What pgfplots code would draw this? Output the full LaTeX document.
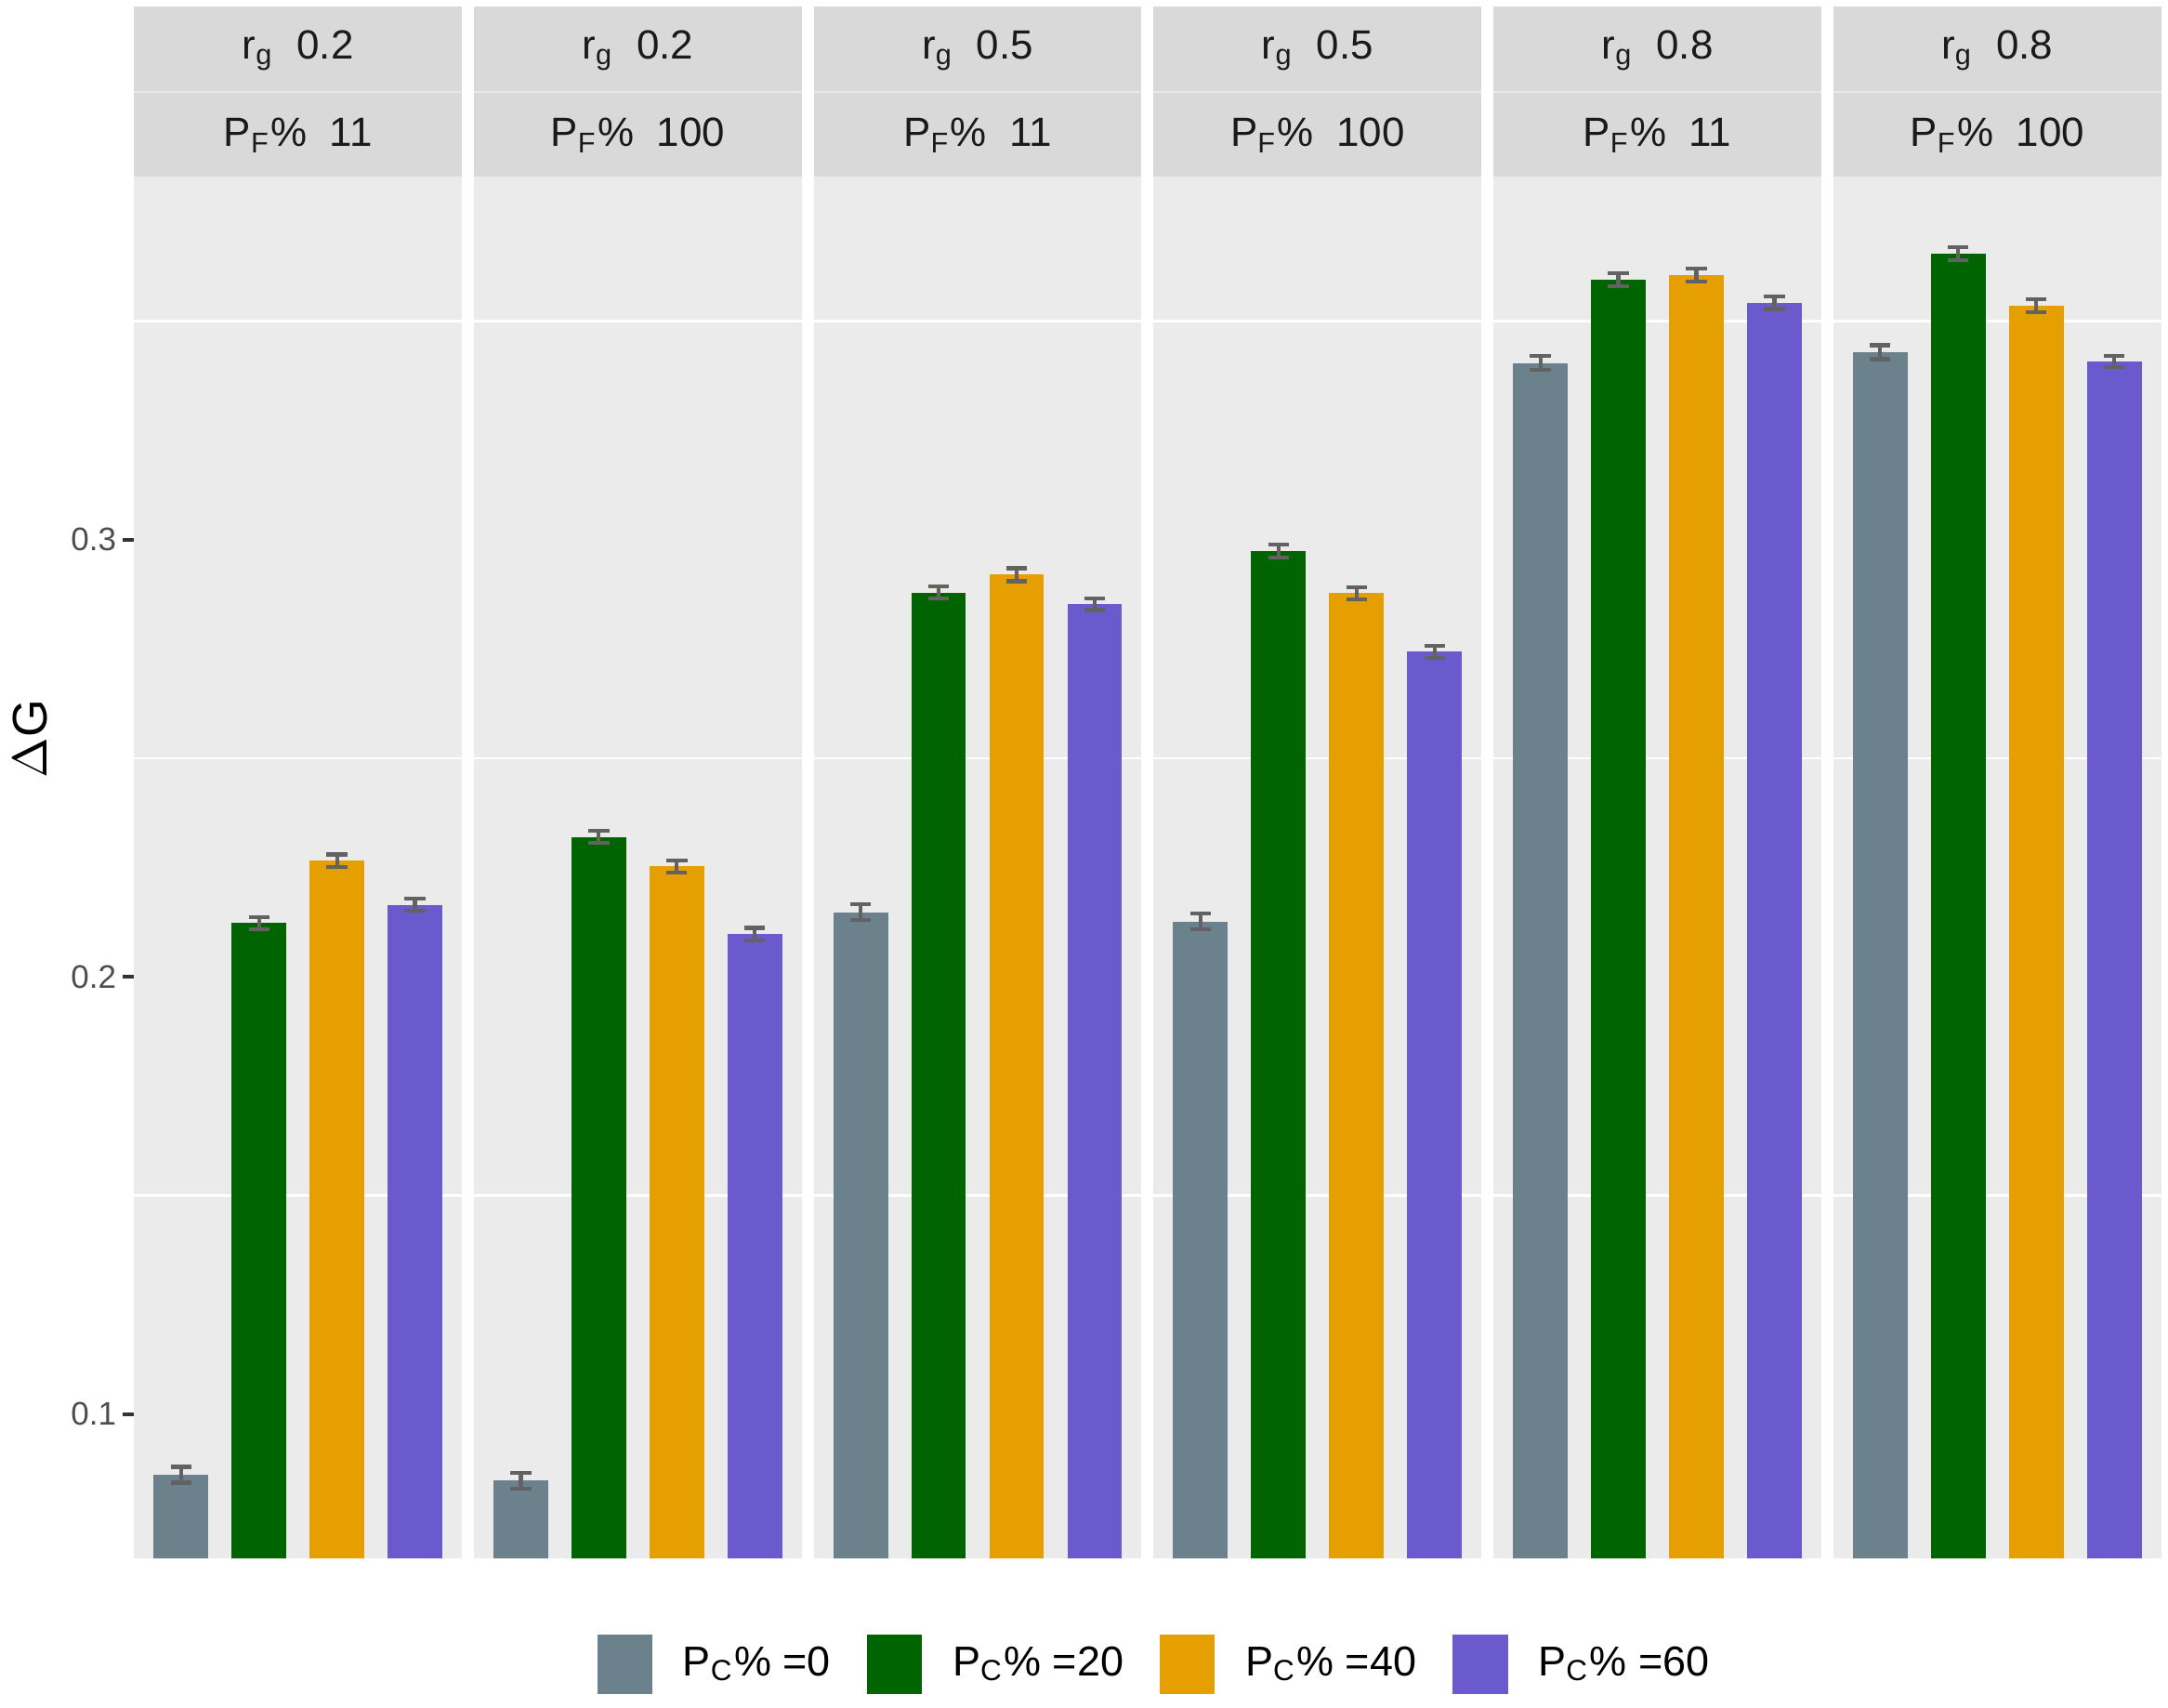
\documentclass[border=0pt]{standalone}
\usepackage{fontspec}
\setmainfont{Liberation Sans}
\usepackage{pgfplots}
\pgfplotsset{compat=1.18}
\usepgfplotslibrary{groupplots}
\usetikzlibrary{calc}
\definecolor{cA}{HTML}{6B828C}
\definecolor{cB}{HTML}{006400}
\definecolor{cC}{HTML}{E69F00}
\definecolor{cD}{HTML}{6A5ACD}
\definecolor{panelbg}{HTML}{EBEBEB}
\definecolor{stripbg}{HTML}{D9D9D9}
\definecolor{striptxt}{HTML}{1A1A1A}
\definecolor{ticklab}{HTML}{4D4D4D}
\definecolor{tickcol}{HTML}{333333}
\definecolor{errgray}{HTML}{626262}
\newcommand\smallfont{\fontsize{8.4}{10}\selectfont}
\newcommand\legfont{\fontsize{8.6}{10}\selectfont}
\newcommand\tickfont{\fontsize{6.7}{8}\selectfont}
\pgfplotsset{
  eb/.style={ybar, bar width=0.7, error bars/.cd, y dir=both, y explicit,
    error bar style={draw=errgray, line width=0.8pt},
    error mark options={rotate=90, mark size=0.75mm, draw=errgray, line width=0.8pt}},
}
\newcommand\bars[8]{%
  \addplot[fill=cA, draw=none, eb] coordinates {(1,#1) +- (0,#2)};
  \addplot[fill=cB, draw=none, eb] coordinates {(2,#3) +- (0,#4)};
  \addplot[fill=cC, draw=none, eb] coordinates {(3,#5) +- (0,#6)};
  \addplot[fill=cD, draw=none, eb] coordinates {(4,#7) +- (0,#8)};
}
\begin{document}
\begin{tikzpicture}
\begin{groupplot}[
  group style={group size=6 by 1, horizontal sep=0.88mm},
  width=23.70mm, height=99.9mm, scale only axis,
  xmin=0.4, xmax=4.6, ymin=0.067, ymax=0.383,
  xtick=\empty, ytick={0.1,0.2,0.3}, minor ytick={0.15,0.25,0.35},
  yminorgrids, minor grid style={white, line width=0.45pt},
  minor tick length=0pt,
  axis line style={draw=none},
  axis background/.style={fill=panelbg},
  tick pos=left,
  /pgf/number format/assume math mode=true,
  yticklabel style={font=\tickfont, text=ticklab},
  ytick style={draw=none},
  yticklabels={},
]
\nextgroupplot[
  ytick style={draw=tickcol, line width=0.77pt},
  major tick length=0.8mm, tick align=outside,
  yticklabels={0.1,0.2,0.3},
  yticklabel style={xshift=0.75mm},
  ylabel={$\Delta$G}, ylabel style={font=\fontsize{10}{12}\selectfont, at={(axis description cs:-0.316,0.593)}, anchor=center},
  legend style={at={(axis description cs:3.125,-0.077)}, anchor=center, draw=none, fill=none,
    legend columns=4, font=\legfont,
    /tikz/every odd column/.append style={column sep=1.5mm},
    /tikz/every even column/.append style={column sep=1.9mm}},
  legend image code/.code={\fill[#1] (0mm,-2.15mm) rectangle (4mm,2.15mm);},
]
\bars{0.0861}{0.0018}{0.2123}{0.0014}{0.2266}{0.0014}{0.2165}{0.0014}
\legend{P\textsubscript{C}\% =0, P\textsubscript{C}\% =20, P\textsubscript{C}\% =40, P\textsubscript{C}\% =60}
\nextgroupplot
\bars{0.0848}{0.0018}{0.2320}{0.0014}{0.2253}{0.0014}{0.2098}{0.0014}
\nextgroupplot
\bars{0.2148}{0.0018}{0.2879}{0.0014}{0.2920}{0.0015}{0.2852}{0.0013}
\nextgroupplot
\bars{0.2127}{0.0018}{0.2974}{0.0015}{0.2878}{0.0014}{0.2744}{0.0014}
\nextgroupplot
\bars{0.3404}{0.0016}{0.3595}{0.0015}{0.3606}{0.0015}{0.3542}{0.0014}
\nextgroupplot
\bars{0.3429}{0.0016}{0.3655}{0.0015}{0.3535}{0.0015}{0.3408}{0.0013}
\end{groupplot}
\foreach \i/\a/\b in {1/0.2/11,2/0.2/100,3/0.5/11,4/0.5/100,5/0.8/11,6/0.8/100}{
  \fill[stripbg] (group c\i r1.north west) rectangle ([yshift=12.3mm]group c\i r1.north east);
  \draw[white!40!stripbg, line width=0.3pt] ([yshift=6.15mm]group c\i r1.north west) -- ([yshift=6.15mm]group c\i r1.north east);
  \node[anchor=base, font=\smallfont, text=striptxt, inner sep=0pt] at ($(group c\i r1.north)+(0,8.5mm)$) {r\textsubscript{g}\ \ \a};
  \node[anchor=base, font=\smallfont, text=striptxt, inner sep=0pt] at ($(group c\i r1.north)+(0,2.2mm)$) {P\textsubscript{F}\%\ \ \b};
}
\pgfresetboundingbox
\path ($(group c1r1.south west)+(-9.7mm,-10.8mm)$) rectangle ++(156.8mm,123.5mm);
\end{tikzpicture}
\end{document}
